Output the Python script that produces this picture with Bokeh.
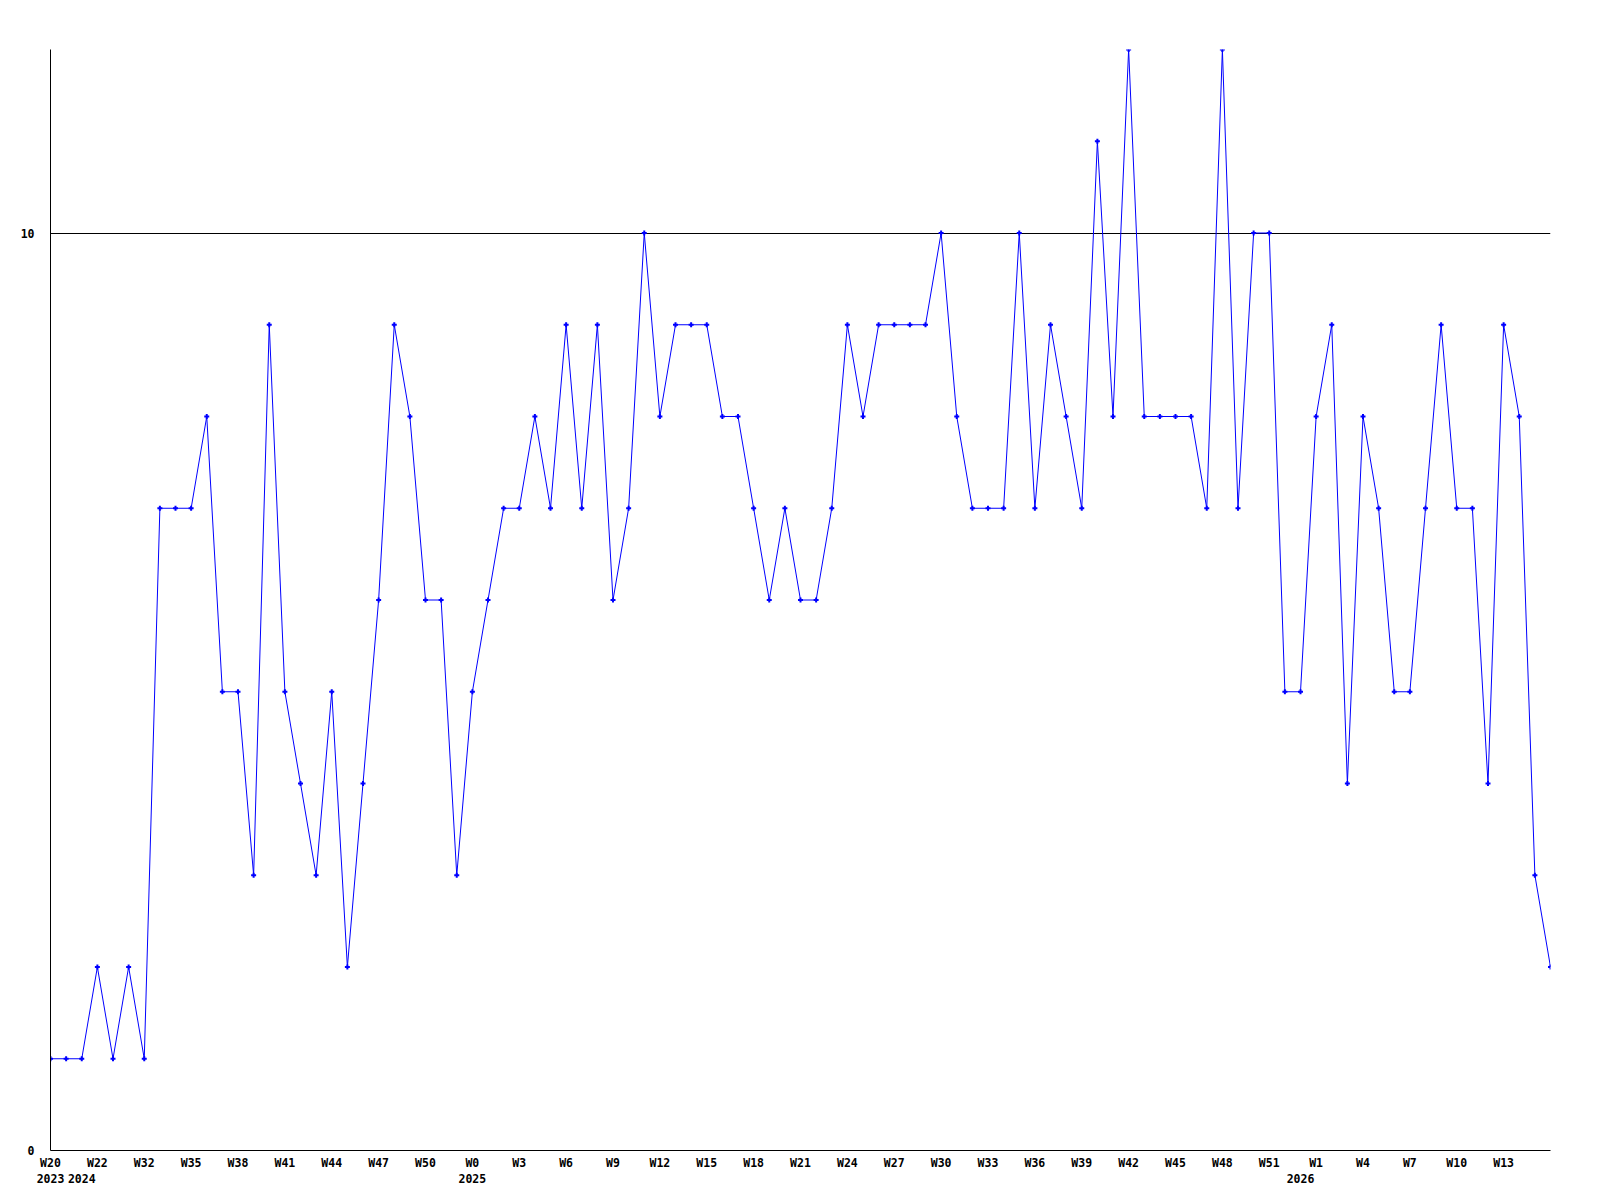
from bokeh.plotting import figure
from bokeh.models import FixedTicker, Range1d, LinearAxis
from bokeh.embed import file_html
from bokeh.resources import INLINE

# Week labels (ISO-like week numbers) and their years
weeks = ["W20", "W21", "W21", "W22", "W25", "W28",
         "W32", "W33", "W34", "W35", "W36", "W37", "W38", "W39", "W40", "W41", "W42",
         "W43", "W44", "W45", "W46", "W47", "W48", "W49", "W50", "W51", "W52",
         "W0", "W1", "W2", "W3", "W4", "W5", "W6", "W7", "W8", "W9", "W10", "W11", "W12",
         "W13", "W14", "W15", "W16", "W17", "W18", "W19", "W20", "W21", "W22", "W23",
         "W24", "W25", "W26", "W27", "W28", "W29", "W30", "W31", "W32", "W33", "W34",
         "W35", "W36", "W37", "W38", "W39", "W40", "W41", "W42", "W43", "W44", "W45",
         "W46", "W47", "W48", "W49", "W50", "W51", "W52",
         "W0", "W1", "W2", "W3", "W4", "W5", "W6", "W7", "W8", "W9", "W10", "W11",
         "W12", "W13", "W14", "W15", "W16"]
years = (["2023", "2023", "2024", "2024", "2024", "2024"]
         + ["2024"] * 21
         + ["2025"] * 53
         + ["2026"] * 17)

values = [1, 1, 1, 2, 1, 2, 1, 7, 7, 7,
          8, 5, 5, 3, 9, 5, 4, 3, 5, 2,
          4, 6, 9, 8, 6, 6, 3, 5, 6, 7,
          7, 8, 7, 9, 7, 9, 6, 7, 10, 8,
          9, 9, 9, 8, 8, 7, 6, 7, 6, 6,
          7, 9, 8, 9, 9, 9, 9, 10, 8, 7,
          7, 7, 10, 7, 9, 8, 7, 11, 8, 12,
          8, 8, 8, 8, 7, 12, 7, 10, 10, 5,
          5, 8, 9, 4, 8, 7, 5, 5, 7, 9,
          7, 7, 4, 9, 8, 3, 2]

y_ticks = [0, 10]

n = len(values)
x = list(range(n))
tick_idx = list(range(0, 94, 3))
week_overrides = {i: weeks[i] for i in tick_idx}

# year labels centred on the first point of each year
year_idx = [i for i in range(n) if i == 0 or years[i] != years[i - 1]]
year_overrides = {i: years[i] for i in year_idx}

FONT = "DejaVu Sans Mono"

p = figure(frame_width=1500, frame_height=1101,
           min_border_left=50, min_border_right=30,
           min_border_top=49, min_border_bottom=10,
           x_range=Range1d(0, n - 1), y_range=Range1d(0, 12),
           output_backend="svg", toolbar_location=None)
p.outline_line_color = None
p.background_fill_color = "white"
p.border_fill_color = "white"

year_axis = LinearAxis(ticker=FixedTicker(ticks=year_idx),
                       major_label_overrides=year_overrides)
p.add_layout(year_axis, "below")

p.xaxis[0].ticker = FixedTicker(ticks=tick_idx)
p.xaxis[0].major_label_overrides = week_overrides
p.yaxis.ticker = FixedTicker(ticks=y_ticks)
for ax in list(p.xaxis) + list(p.yaxis):
    ax.axis_line_color = "black"
    ax.axis_line_width = 1
    ax.major_tick_out = 0
    ax.major_tick_in = 0
    ax.minor_tick_out = 0
    ax.minor_tick_in = 0
    ax.major_label_text_font = FONT
    ax.major_label_text_font_style = "bold"
    ax.major_label_text_font_size = "11.5px"
    ax.major_label_text_color = "black"
year_axis.axis_line_color = None
p.xaxis[0].major_label_standoff = 5
year_axis.major_label_standoff = 1
p.yaxis.major_label_standoff = 16

p.xgrid.visible = False
p.ygrid.ticker = FixedTicker(ticks=[10])
p.ygrid.grid_line_color = "black"
p.ygrid.grid_line_alpha = 1.0
p.ygrid.grid_line_width = 1

p.line(x, values, line_color="#0000ff", line_width=1)
p.scatter(x, values, marker="cross", size=5, line_color="#0000ff", line_width=2)

open("out.html", "w").write(file_html(p, INLINE))
